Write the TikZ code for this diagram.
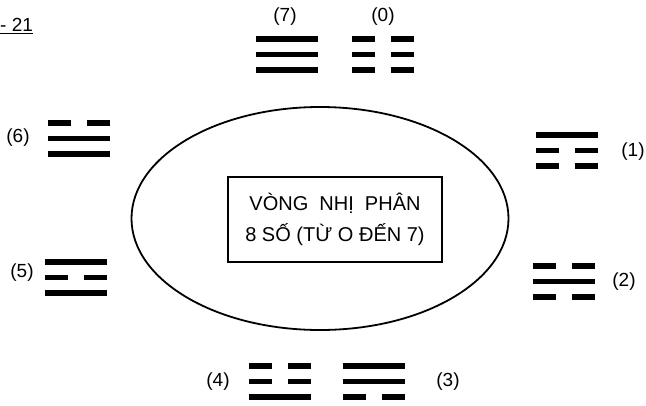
\documentclass[tikz,border=0pt]{standalone}
\usepackage{fontspec}
\setmainfont{Liberation Sans}
\usetikzlibrary{shapes.geometric}

\begin{document}
\begin{tikzpicture}[
    x=1pt,
    y=-1pt,
    font=\fontsize{19}{23}\selectfont,
    yao/.style={line width=5.5pt},
    ring/.style={draw, line width=1.8pt, ellipse, inner sep=0pt,
                 minimum width=377pt, minimum height=223pt},
    titlebox/.style={draw, line width=1.3pt, align=center,
                     minimum width=214pt, minimum height=85pt,
                     font=\fontsize{20}{31}\selectfont},
    num/.style={inner sep=0pt}
]

% parameters
\def\w{62}      % trigram width
\def\seg{23}    % half of a broken line
\def\dy{15.5}   % line spacing

\useasboundingbox (0,0) rectangle (646,405);

% figure number (cut at the left edge)
\node[num, anchor=west] (fig) at (0,26) {\underline{- 21}};

% ---------------- ring and title ----------------
\node[ring] (ring) at (320,218.5) {};
\node[titlebox] (title) at (335,219.5)
    {VÒNG\ \ NHỊ\ \ PHÂN\\8 SỐ (TỪ O ĐẾN 7)};

% ---------------- trigrams ----------------
% number / centre x / top line y / lines top to bottom (1 solid, 0 broken) / label x / label y
\foreach \n/\cx/\ty/\pa/\pb/\pc/\lx/\ly in {
    7/287/39/1/1/1/285/17,
    0/383/39/0/0/0/383/17,
    6/79/123/0/1/1/18/138,
    1/567/135/1/0/0/633/152,
    5/76/262/1/0/1/22/273,
    2/564/266/0/1/0/624/282,
    4/280/366/0/0/1/218/382,
    3/374/366/1/1/0/448/382}{
    \foreach \k/\p in {0/\pa,1/\pb,2/\pc}{
        \pgfmathsetmacro{\yy}{\ty+\k*\dy}
        \ifnum\p=1
            \draw[yao] (\cx-\w/2,\yy) -- ++(\w,0);
        \else
            \draw[yao] (\cx-\w/2,\yy) -- ++(\seg,0);
            \draw[yao] (\cx+\w/2,\yy) -- ++(-\seg,0);
        \fi
    }
    \node[num] (l\n) at (\lx,\ly) {(\n)};
}

\end{tikzpicture}
\end{document}
